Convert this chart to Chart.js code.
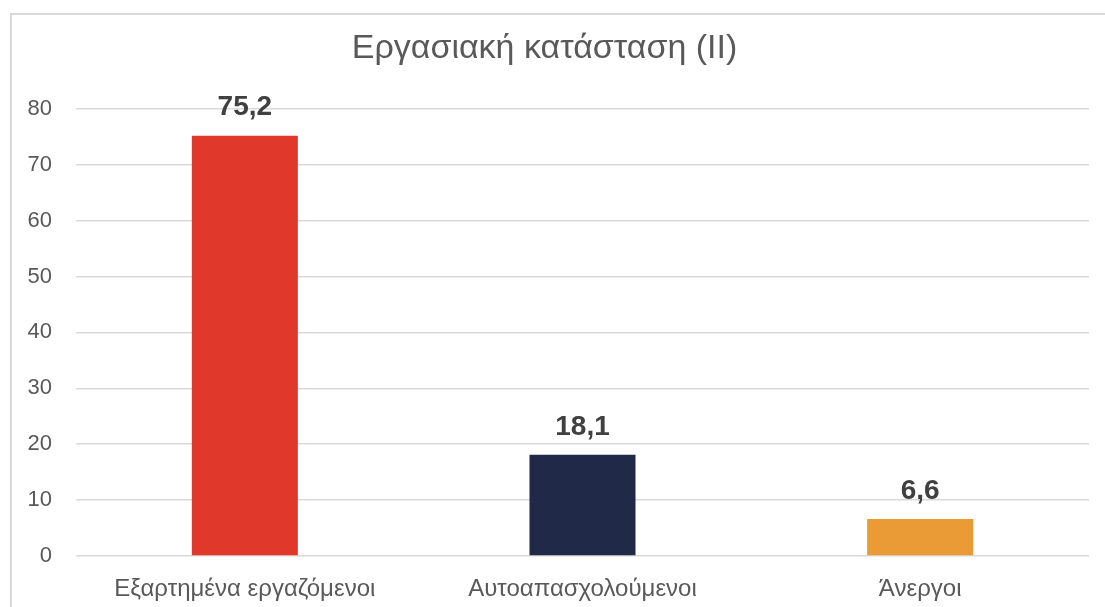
<!DOCTYPE html>
<html>
<head>
<meta charset="utf-8">
<script src="https://cdn.jsdelivr.net/npm/chart.js@4"></script>
<style>
  html, body { margin: 0; padding: 0; background: #fff; overflow: hidden; }
  #frame { position: absolute; left: 10px; top: 13px; width: 1200px; height: 700px;
           border-left: 2px solid #d9d9d9; border-top: 2px solid #d9d9d9; }
  #wrap { position: absolute; left: 0; top: 0; width: 1105px; height: 607px; }
</style>
</head>
<body>
<div id="frame"></div>
<div id="wrap"><canvas id="mainCanvas"></canvas></div>
<script>
var categories = ['Εξαρτημένα εργαζόμενοι', 'Αυτοαπασχολούμενοι', 'Άνεργοι'];
var values = [75.2, 18.1, 6.6];
var barColors = ['#e0392c', '#212949', '#eb9b35'];
var yTicks = [0, 10, 20, 30, 40, 50, 60, 70, 80];

// draws the value above each bar, with a comma as decimal mark
var valueLabels = {
    id : 'valueLabels',
    afterDatasetsDraw : function (chart) {
        var ctx = chart.ctx;
        var meta = chart.getDatasetMeta(0);
        ctx.save();
        ctx.font = 'bold 28px "Liberation Sans", Arial, sans-serif';
        ctx.fillStyle = '#404040';
        ctx.textAlign = 'center';
        ctx.textBaseline = 'middle';
        meta.data.forEach(function (bar, i) {
            ctx.fillText(values[i].toFixed(1).replace('.', ','), bar.x, bar.y - 28);
        });
        ctx.restore();
    }
};

var ChartObj = new Chart(document.getElementById('mainCanvas'), {
    type : 'bar',
    data : {
        labels : categories,
        datasets : [{
            data : values,
            backgroundColor : barColors,
            barPercentage : 0.314,
            categoryPercentage : 1
        }]
    },
    options : {
        responsive : true,
        maintainAspectRatio : false,
        animation : false,
        layout : { padding : { left : 0, right : 16, top : 0, bottom : 0 } },
        plugins : {
            legend : { display : false },
            tooltip : { enabled : false },
            title : {
                display : true,
                text : 'Εργασιακή κατάσταση (ΙΙ)',
                color : '#595959',
                font : { family : '"Liberation Sans", Arial, sans-serif', size : 34, weight : 'normal' },
                padding : { top : 28, bottom : 40 }
            }
        },
        scales : {
            x : {
                grid : { display : false },
                border : { display : false },
                ticks : {
                    color : '#595959',
                    font : { family : '"Liberation Sans", Arial, sans-serif', size : 24 },
                    padding : 11
                },
                afterFit : function (scale) { scale.height = 51; }
            },
            y : {
                min : 0,
                max : 80,
                afterBuildTicks : function (scale) {
                    scale.ticks = yTicks.map(function (v) { return { value : v }; });
                },
                grid : { color : '#d9d9d9', lineWidth : 1.5, drawTicks : false },
                border : { display : false },
                ticks : {
                    color : '#595959',
                    font : { family : '"Liberation Sans", Arial, sans-serif', size : 22 },
                    padding : 24
                },
                afterFit : function (scale) { scale.width = 76; }
            }
        }
    },
    plugins : [valueLabels]
});
</script>
</body>
</html>
